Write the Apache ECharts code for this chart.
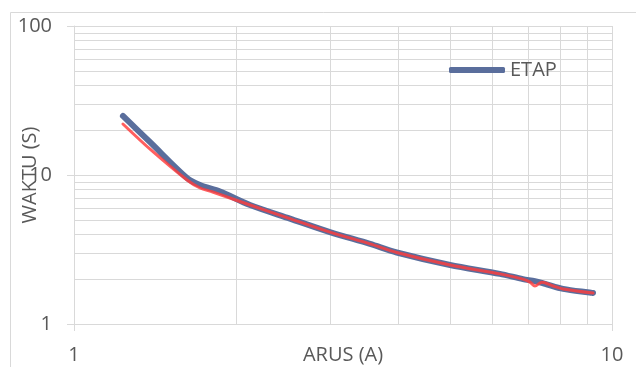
<!DOCTYPE html>
<html>
<head>
<meta charset="utf-8">
<script src="https://cdn.jsdelivr.net/npm/echarts@6/dist/echarts.min.js"></script>
<style>
html,body{margin:0;padding:0;background:#fff;}
#chart{width:636px;height:367px;}
</style>
</head>
<body>
<div id="chart"></div>
<script>
// Data (log-log)
const arusEtap  = [1.233, 1.385, 1.622, 1.715, 1.868, 2.124, 2.52, 2.99, 3.55, 3.98, 5.00, 6.19, 6.83, 7.19, 7.51, 8.11, 9.22];
const waktuEtap = [24.9, 16.6, 9.55, 8.57, 7.75, 6.29, 5.10, 4.14, 3.45, 3.02, 2.49, 2.17, 2.00, 1.94, 1.86, 1.72, 1.615];
const arusHitung  = [1.233, 1.385, 1.622, 1.715, 1.81, 2.124, 2.52, 2.99, 3.55, 3.98, 5.00, 6.19, 6.83, 7.04, 7.19, 7.41, 7.77, 8.11, 9.22];
const waktuHitung = [22.0, 14.9, 9.25, 8.18, 7.69, 6.29, 5.10, 4.14, 3.45, 3.02, 2.49, 2.17, 2.00, 1.91, 1.80, 1.91, 1.80, 1.72, 1.615];
const xMinorGrid = [2, 3, 4, 5, 6, 7, 8, 9];
const yMinorGrid = [2, 3, 4, 5, 6, 7, 8, 9, 20, 30, 40, 50, 60, 70, 80, 90];
const xTickLabels = ['1', '10'];
const yTickLabels = ['1', '10', '100'];

const gridColor = '#d9d9d9';
const textColor = '#595959';
const font = 'Open Sans';

const chart = echarts.init(document.getElementById('chart'), null, {renderer: 'canvas'});

function zip(a, b) { return a.map((v, i) => [v, b[i]]); }

const minorLines = [
  ...xMinorGrid.map(v => ({xAxis: v})),
  ...yMinorGrid.map(v => ({yAxis: v}))
];

chart.setOption({
  animation: false,
  backgroundColor: '#fff',
  textStyle: {fontFamily: font},
  graphic: [{
    type: 'rect',
    shape: {x: 10.5, y: 12.5, width: 700, height: 500},
    style: {fill: 'none', stroke: gridColor, lineWidth: 1},
    z: -10, silent: true
  }],
  grid: {left: 74, right: 24, top: 26, bottom: 43, containLabel: false, outerBoundsMode: 'none'},
  legend: {
    data: ['ETAP'],
    left: 444, top: 55, z: 10,
    icon: 'roundRect',
    itemWidth: 56, itemHeight: 6,
    itemGap: 5,
    itemStyle: {color: '#5a6e9c', borderWidth: 0, borderColor: 'transparent'},
    lineStyle: {width: 0, opacity: 0},
    textStyle: {color: textColor, fontSize: 20, fontFamily: font, padding: [0, 0, 0, 0]}
  },
  xAxis: {
    type: 'log', logBase: 10, min: 1, max: 10,
    name: 'ARUS (A)', nameLocation: 'middle', nameGap: 21, nameMoveOverlap: false,
    nameTextStyle: {color: textColor, fontSize: 20, fontFamily: font},
    axisLine: {show: true, lineStyle: {color: gridColor, width: 1}},
    axisTick: {show: true, length: 7, lineStyle: {color: gridColor}},
    axisLabel: {color: textColor, fontSize: 20, fontFamily: font, margin: 21,
      formatter: v => { const s = String(Math.round(v)); return xTickLabels.includes(s) ? s : ''; }},
    splitLine: {show: true, lineStyle: {color: gridColor, width: 1}}
  },
  yAxis: {
    type: 'log', logBase: 10, min: 1, max: 100,
    name: 'WAKTU (S)', nameLocation: 'middle', nameGap: 34, nameRotate: 90, nameMoveOverlap: false,
    nameTextStyle: {color: textColor, fontSize: 20, fontFamily: font},
    axisLine: {show: true, lineStyle: {color: gridColor, width: 1}},
    axisTick: {show: true, length: 7, lineStyle: {color: gridColor}},
    axisLabel: {color: textColor, fontSize: 20, fontFamily: font, margin: 22,
      formatter: v => { const s = String(Math.round(v)); return yTickLabels.includes(s) ? s : ''; }},
    splitLine: {show: true, lineStyle: {color: gridColor, width: 1}}
  },
  series: [
    {
      name: 'grid-minor', type: 'line', data: [[1, 1]],
      showSymbol: false, symbol: 'none', lineStyle: {opacity: 0}, silent: true, z: 0,
      markLine: {
        silent: true, symbol: ['none', 'none'], animation: false, z: 0,
        label: {show: false},
        lineStyle: {color: gridColor, width: 1, type: 'solid'},
        emphasis: {disabled: true},
        data: minorLines
      }
    },
    {
      name: 'ETAP', type: 'line', data: zip(arusEtap, waktuEtap),
      smooth: 0.3, symbol: 'none', z: 3,
      itemStyle: {color: '#5a6e9c'},
      lineStyle: {color: '#5a6e9c', width: 6, cap: 'round', join: 'round'}
    },
    {
      name: 'Perhitungan', type: 'line', data: zip(arusHitung, waktuHitung),
      smooth: 0.3, symbol: 'none', z: 4,
      itemStyle: {color: '#ff4545'},
      lineStyle: {color: 'rgba(255,60,60,0.82)', width: 3, cap: 'round', join: 'round'}
    }
  ]
});
</script>
</body>
</html>
